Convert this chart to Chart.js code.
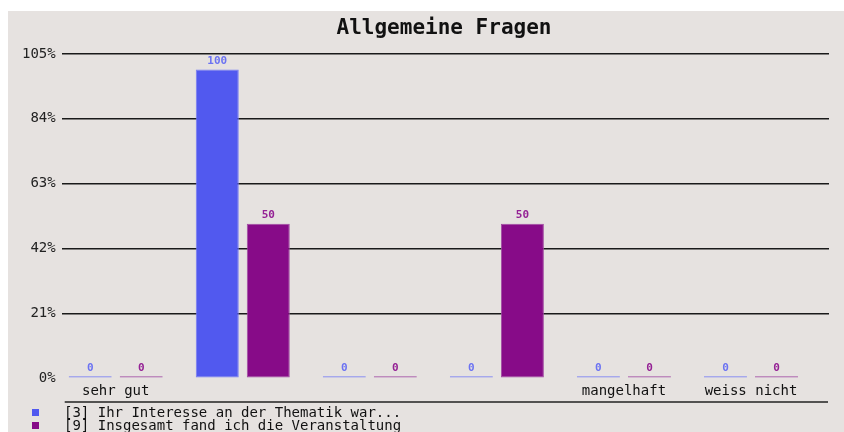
<!DOCTYPE html>
<html>
<head>
<meta charset="utf-8">
<script src="https://cdn.jsdelivr.net/npm/chart.js@4.4.0/dist/chart.umd.min.js"></script>
<style>
  html, body { margin: 0; padding: 0; background: #ffffff; }
  #panel { position: absolute; left: 8px; top: 11px; width: 836px; height: 421px; background: #e6e2e0; overflow: hidden; }
  #wrap { position: absolute; left: 0; top: 0; width: 836px; height: 396px; }
  #title { position: absolute; left: 236px; width: 400px; top: 3px; text-align: center; font: bold 21px "DejaVu Sans Mono", monospace; color: #111; line-height: 26px; }
  #legend { position: absolute; left: 24px; top: 395px; font: 14px "DejaVu Sans Mono", monospace; color: #111; line-height: 13px; }
  #legend div { white-space: pre; }
  #legend span.box { display: inline-block; width: 7px; height: 7px; margin-right: 25px; vertical-align: 1px; }
</style>
</head>
<body>
<div id="panel">
  <div id="wrap"><canvas id="fragenChart"></canvas></div>
  <div id="title">Allgemeine Fragen</div>
  <div id="legend"></div>
</div>
<script>
// categories and values
var categories = ['sehr gut', '', '', '', 'mangelhaft', 'weiss nicht']
var seriesNames = ['[3] Ihr Interesse an der Thematik war...', '[9] Insgesamt fand ich die Veranstaltung']
var interesse = [0, 100, 0, 0, 0, 0]
var insgesamt = [0, 50, 0, 50, 0, 0]
var yTicks = [0, 21, 42, 63, 84, 105]

var fills = ['#5159ef', '#870b88']
var edges = ['#767cf4', '#a04aa2']
var labelColors = ['#6c73f2', '#952295']

function toPoints(arr) {
  return arr.map(function(v, i) { return { x: i, y: v } })
}

// legend as html text
var legendEl = document.getElementById('legend')
seriesNames.forEach(function(name, i) {
  var row = document.createElement('div')
  var box = document.createElement('span')
  box.className = 'box'
  box.style.background = fills[i]
  row.appendChild(box)
  row.appendChild(document.createTextNode(name))
  legendEl.appendChild(row)
})

// value labels above bars + axis line under the category names
var extras = {
  id: 'extras',
  afterDatasetsDraw: function(chart) {
    var ctx = chart.ctx
    ctx.save()
    ctx.font = 'bold 11px "DejaVu Sans Mono", monospace'
    ctx.textAlign = 'center'
    ctx.textBaseline = 'bottom'
    chart.data.datasets.forEach(function(ds, di) {
      var meta = chart.getDatasetMeta(di)
      meta.data.forEach(function(bar, i) {
        ctx.fillStyle = labelColors[di]
        ctx.fillText(String(ds.data[i].y), bar.x, bar.y - 3)
      })
    })
    var a = chart.chartArea
    var xs = chart.scales.x
    ctx.strokeStyle = '#222'
    ctx.lineWidth = 1.5
    ctx.beginPath()
    ctx.moveTo(a.left + 3, xs.bottom - 3)
    ctx.lineTo(a.right - 1, xs.bottom - 3)
    ctx.stroke()
    ctx.restore()
  }
}

var ctx = document.getElementById('fragenChart').getContext('2d')
var chart = new Chart(ctx, {
  type: 'bar',
  data: {
    datasets: [
      {
        label: seriesNames[0],
        data: toPoints(interesse),
        backgroundColor: fills[0],
        borderColor: edges[0],
        borderWidth: 1,
        borderSkipped: false,
        minBarLength: 2
      },
      {
        label: seriesNames[1],
        data: toPoints(insgesamt),
        backgroundColor: fills[1],
        borderColor: edges[1],
        borderWidth: 1,
        borderSkipped: false,
        minBarLength: 2
      }
    ]
  },
  options: {
    responsive: true,
    maintainAspectRatio: false,
    animation: false,
    categoryPercentage: 0.803,
    barPercentage: 0.843,
    layout: { padding: { left: 8, right: 15, top: 43, bottom: 2 } },
    plugins: {
      legend: { display: false },
      tooltip: { enabled: false }
    },
    scales: {
      x: {
        type: 'linear',
        offset: false,
        min: -0.425,
        max: 5.614,
        grid: { display: false, drawTicks: false },
        border: { display: false },
        ticks: {
          stepSize: 1,
          includeBounds: false,
          autoSkip: false,
          maxRotation: 0,
          padding: 5,
          color: '#111',
          font: { family: '"DejaVu Sans Mono", monospace', size: 14 },
          callback: function(v) {
            return Number.isInteger(v) && categories[v] !== undefined ? categories[v] : ''
          }
        }
      },
      y: {
        min: yTicks[0],
        max: yTicks[yTicks.length - 1],
        grid: {
          drawTicks: false,
          lineWidth: 1.5,
          color: function(c) { return c.tick && c.tick.value === 0 ? 'rgba(0,0,0,0)' : '#1a1a1a' }
        },
        border: { display: false },
        afterBuildTicks: function(scale) {
          scale.ticks = yTicks.map(function(v) { return { value: v } })
        },
        ticks: {
          padding: 6,
          color: '#222',
          font: { family: '"DejaVu Sans Mono", monospace', size: 14 },
          callback: function(v) { return v + '%' }
        }
      }
    }
  },
  plugins: [extras]
})
</script>
</body>
</html>
